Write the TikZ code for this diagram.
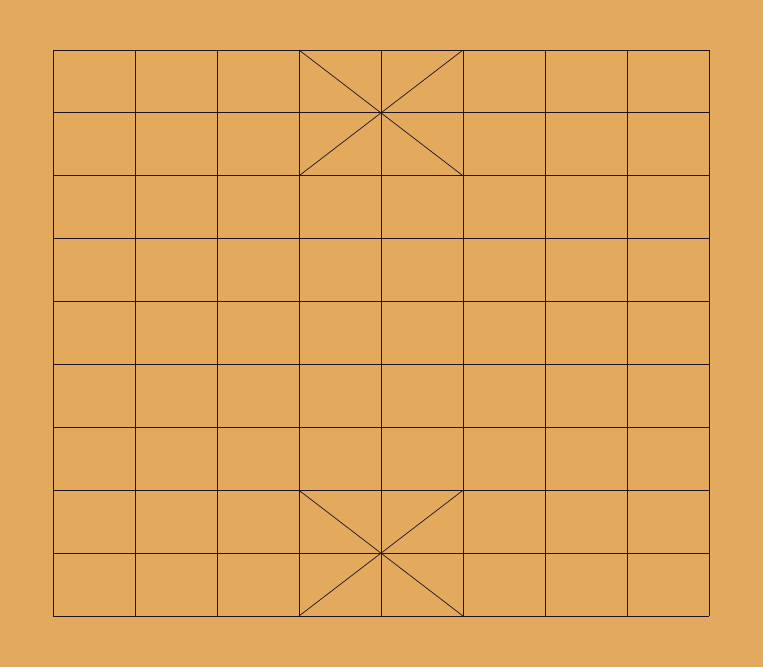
\documentclass[tikz,border=0pt]{standalone}
\usepackage{xcolor}
\usepackage{tikz}
\definecolor{woodbg}{HTML}{E3A95C}
\definecolor{gridink}{HTML}{1E1428}

\begin{document}
\begin{tikzpicture}[
    x=1pt, y=-1pt,
    boardline/.style={draw=gridink, line width=0.9pt},
    palaceline/.style={draw=gridink, line width=0.7pt}
]
    % background
    \fill[woodbg] (0,0) rectangle (763,667);
    \useasboundingbox (0,0) rectangle (763,667);

    % vertical lines
    \foreach \i in {0,...,8}
        \draw[boardline] (53+82*\i,50) -- (53+82*\i,616);
    % horizontal lines
    \foreach \j in {0,...,9}
        \draw[boardline] (53,50+62.9*\j) -- (709,50+62.9*\j);

    % palaces
    \draw[palaceline] (299,50) -- (463,175.8);
    \draw[palaceline] (463,50) -- (299,175.8);
    \draw[palaceline] (299,490.3) -- (463,616);
    \draw[palaceline] (463,490.3) -- (299,616);
\end{tikzpicture}
\end{document}
